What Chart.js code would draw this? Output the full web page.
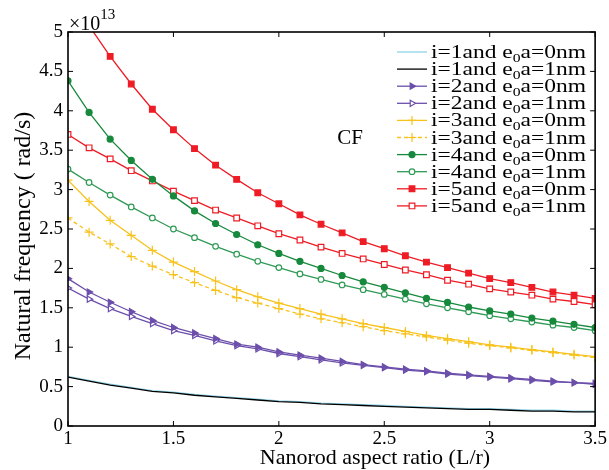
<!DOCTYPE html>
<html>
<head>
<meta charset="utf-8">
<script src="https://cdn.jsdelivr.net/npm/chart.js@4/dist/chart.umd.min.js"></script>
<style>
  html, body { margin: 0; padding: 0; background: #fff; }
</style>
</head>
<body>
<canvas id="freqChart" width="609" height="470"></canvas>
<script>
// aspect ratio L/r, values in units of 1e13 rad/s
const aspectRatio = [1.0, 1.1, 1.2, 1.3, 1.4, 1.5, 1.6, 1.7, 1.8, 1.9, 2.0, 2.1, 2.2,
  2.3, 2.4, 2.5, 2.6, 2.7, 2.8, 2.9, 3.0, 3.1, 3.2, 3.3, 3.4, 3.5];

const i1Local = [0.63, 0.58, 0.53, 0.49, 0.45, 0.43, 0.40, 0.38, 0.36, 0.34, 0.32, 0.31, 0.29,
  0.28, 0.27, 0.26, 0.25, 0.24, 0.23, 0.22, 0.22, 0.21, 0.20, 0.20, 0.19, 0.19];
const i1Nonlocal = [0.62, 0.57, 0.52, 0.48, 0.44, 0.42, 0.39, 0.37, 0.35, 0.33, 0.31, 0.30, 0.28,
  0.27, 0.26, 0.25, 0.24, 0.23, 0.22, 0.21, 0.21, 0.20, 0.19, 0.19, 0.18, 0.18];
const i2Local = [1.87, 1.70, 1.57, 1.45, 1.34, 1.25, 1.18, 1.11, 1.04, 1.00, 0.94, 0.90, 0.86,
  0.82, 0.78, 0.75, 0.72, 0.70, 0.67, 0.65, 0.63, 0.61, 0.59, 0.57, 0.55, 0.54];
const i2Nonlocal = [1.75, 1.61, 1.49, 1.39, 1.30, 1.21, 1.15, 1.08, 1.02, 0.98, 0.92, 0.88, 0.84,
  0.80, 0.77, 0.74, 0.71, 0.69, 0.66, 0.64, 0.62, 0.60, 0.58, 0.56, 0.55, 0.53];
const i3Local = [3.12, 2.85, 2.61, 2.42, 2.23, 2.08, 1.96, 1.84, 1.73, 1.64, 1.56, 1.49, 1.42,
  1.36, 1.30, 1.25, 1.20, 1.15, 1.11, 1.07, 1.03, 1.00, 0.97, 0.94, 0.91, 0.88];
const i3Nonlocal = [2.64, 2.46, 2.31, 2.15, 2.03, 1.92, 1.82, 1.72, 1.63, 1.56, 1.49, 1.42, 1.36,
  1.31, 1.26, 1.21, 1.17, 1.13, 1.09, 1.05, 1.02, 0.99, 0.96, 0.93, 0.90, 0.87];
const i4Local = [4.38, 3.98, 3.64, 3.37, 3.13, 2.92, 2.73, 2.57, 2.43, 2.30, 2.19, 2.09, 2.00,
  1.91, 1.83, 1.76, 1.69, 1.62, 1.57, 1.51, 1.46, 1.42, 1.37, 1.33, 1.29, 1.25];
const i4Nonlocal = [3.26, 3.09, 2.93, 2.78, 2.64, 2.50, 2.39, 2.28, 2.18, 2.09, 2.01, 1.93, 1.86,
  1.79, 1.73, 1.67, 1.61, 1.55, 1.50, 1.45, 1.40, 1.36, 1.32, 1.28, 1.25, 1.21];
const i5Local = [5.52, 5.08, 4.69, 4.34, 4.02, 3.76, 3.52, 3.31, 3.13, 2.96, 2.82, 2.68, 2.56,
  2.45, 2.34, 2.25, 2.16, 2.08, 2.01, 1.94, 1.87, 1.82, 1.76, 1.70, 1.66, 1.62];
const i5Nonlocal = [3.70, 3.53, 3.39, 3.24, 3.11, 2.98, 2.86, 2.74, 2.64, 2.54, 2.44, 2.36, 2.27,
  2.19, 2.12, 2.05, 1.98, 1.92, 1.85, 1.80, 1.74, 1.70, 1.66, 1.61, 1.58, 1.54];

const xTicks = [1, 1.5, 2, 2.5, 3, 3.5];
const xTickLabels = ['1', '1.5', '2', '2.5', '3', '3.5'];
const yTicks = [0, 0.5, 1, 1.5, 2, 2.5, 3, 3.5, 4, 4.5, 5];
const yTickLabels = ['0', '0.5', '1', '1.5', '2', '2.5', '3', '3.5', '4', '4.5', '5'];

const modeNumbers = ['1', '1', '2', '2', '3', '3', '4', '4', '5', '5'];
const nonlocalParams = ['0', '1', '0', '1', '0', '1', '0', '1', '0', '1'];

const SERIF = '"Liberation Serif", "Times New Roman", serif';

const styles = [
  { color: '#8fd3e8', style: false },
  { color: '#000000', style: false, order: -1 },
  { color: '#6c4fab', style: 'triangle', r: 3.6, rot: 90, fill: true },
  { color: '#6c4fab', style: 'triangle', r: 3.6, rot: 90, fill: false },
  { color: '#f8c21c', style: 'cross', r: 4.5, fill: true },
  { color: '#f8c21c', style: 'cross', r: 4.5, fill: true, dash: [4, 3] },
  { color: '#17893c', style: 'circle', r: 3, fill: true },
  { color: '#2e9a55', style: 'circle', r: 2.8, fill: false },
  { color: '#ee1c25', style: 'rect', r: 4, fill: true },
  { color: '#ee1c25', style: 'rect', r: 4, fill: false }
];
const seriesValues = [i1Local, i1Nonlocal, i2Local, i2Nonlocal, i3Local, i3Nonlocal,
  i4Local, i4Nonlocal, i5Local, i5Nonlocal];

const datasets = seriesValues.map((vals, k) => {
  const s = styles[k];
  return {
    label: 'i=' + modeNumbers[k] + 'and e0a=' + nonlocalParams[k] + 'nm',
    data: vals.map((v, j) => ({ x: aspectRatio[j], y: v })),
    borderColor: s.color,
    borderWidth: 1.3,
    borderDash: s.dash || [],
    pointStyle: s.style || 'circle',
    pointRadius: s.style ? s.r : 0,
    pointRotation: s.rot || 0,
    pointBackgroundColor: s.fill ? s.color : '#ffffff',
    pointBorderColor: s.color,
    pointBorderWidth: 1.2,
    tension: 0,
    order: s.order || 0
  };
});

function drawMarker(ctx, s, x, y) {
  if (!s.style) return;
  ctx.save();
  ctx.setLineDash([]);
  ctx.fillStyle = s.fill ? s.color : '#ffffff';
  ctx.strokeStyle = s.color;
  ctx.lineWidth = 1.2;
  Chart.helpers.drawPoint(ctx, { pointStyle: s.style, radius: s.r, rotation: s.rot || 0, borderWidth: 1.2 }, x, y);
  ctx.restore();
}

const decorations = {
  id: 'decorations',
  afterDraw(chart) {
    const ctx = chart.ctx;
    const a = chart.chartArea;
    const xs = chart.scales.x, ys = chart.scales.y;
    ctx.save();
    // box and inward ticks
    ctx.strokeStyle = '#000';
    ctx.lineWidth = 1.6;
    ctx.setLineDash([]);
    ctx.strokeRect(a.left, a.top, a.right - a.left, a.bottom - a.top);
    ctx.lineWidth = 1;
    const tl = 5;
    ctx.beginPath();
    xTicks.forEach(v => {
      const px = xs.getPixelForValue(v);
      ctx.moveTo(px, a.bottom); ctx.lineTo(px, a.bottom - tl);
      ctx.moveTo(px, a.top); ctx.lineTo(px, a.top + tl);
    });
    yTicks.forEach(v => {
      const py = ys.getPixelForValue(v);
      ctx.moveTo(a.left, py); ctx.lineTo(a.left + tl, py);
      ctx.moveTo(a.right, py); ctx.lineTo(a.right - tl, py);
    });
    ctx.stroke();

    ctx.fillStyle = '#000';
    // exponent
    ctx.textBaseline = 'alphabetic';
    ctx.textAlign = 'left';
    ctx.font = '20px ' + SERIF;
    ctx.fillText('\u00d710', a.left + 1, 30);
    const w10 = ctx.measureText('\u00d710').width;
    ctx.font = '15px ' + SERIF;
    ctx.fillText('13', a.left + 1 + w10, 19);

    // CF label
    ctx.font = '21px ' + SERIF;
    ctx.textAlign = 'center';
    ctx.fillText('CF', 350, 144);

    // axis titles
    ctx.font = '22px ' + SERIF;
    ctx.textBaseline = 'middle';
    ctx.fillText('Nanorod aspect ratio (L/r)', 375, 458);
    ctx.save();
    ctx.translate(24, 236);
    ctx.rotate(-Math.PI / 2);
    ctx.font = '24px ' + SERIF;
    ctx.fillText('Natural frequency ( rad/s)', 0, 0);
    ctx.restore();

    // legend
    const lx0 = 397, lx1 = 427, tx = 431, textW = 155;
    styles.forEach((s, k) => {
      const y = 52 + 17.1 * k;
      ctx.save();
      ctx.strokeStyle = s.color;
      ctx.lineWidth = 1.3;
      ctx.setLineDash(s.dash || []);
      ctx.beginPath();
      ctx.moveTo(lx0, y); ctx.lineTo(lx1, y);
      ctx.stroke();
      ctx.restore();
      drawMarker(ctx, s, (lx0 + lx1) / 2, y);

      const partA = 'i=' + modeNumbers[k] + 'and e';
      const partB = '0';
      const partC = 'a=' + nonlocalParams[k] + 'nm';
      ctx.save();
      ctx.textAlign = 'left';
      ctx.textBaseline = 'alphabetic';
      ctx.font = '18px ' + SERIF;
      const wa = ctx.measureText(partA).width;
      const wc = ctx.measureText(partC).width;
      ctx.font = '12px ' + SERIF;
      const wb = ctx.measureText(partB).width;
      const sx = textW / (wa + wb + wc);
      ctx.translate(tx, y + 6);
      ctx.scale(sx, 1);
      ctx.font = '18px ' + SERIF;
      ctx.fillText(partA, 0, 0);
      ctx.font = '12px ' + SERIF;
      ctx.fillText(partB, wa, 4);
      ctx.font = '18px ' + SERIF;
      ctx.fillText(partC, wa + wb, 0);
      ctx.restore();
    });
    ctx.restore();
  }
};

new Chart(document.getElementById('freqChart'), {
  type: 'line',
  data: { datasets: datasets },
  options: {
    responsive: false,
    animation: false,
    devicePixelRatio: 1,
    layout: { padding: { top: 32, right: 12, left: 0, bottom: 0 } },
    plugins: { legend: { display: false }, tooltip: { enabled: false } },
    scales: {
      x: {
        type: 'linear',
        min: 1, max: 3.5,
        grid: { display: false, drawTicks: false },
        border: { display: false },
        afterBuildTicks: s => { s.ticks = xTicks.map(v => ({ value: v })); },
        afterFit: s => { s.height = 44; },
        ticks: {
          color: '#000', padding: 2,
          font: { family: SERIF, size: 19 },
          maxRotation: 0,
          callback: (v, i) => xTickLabels[i]
        }
      },
      y: {
        min: 0, max: 5,
        grid: { display: false, drawTicks: false },
        border: { display: false },
        afterBuildTicks: s => { s.ticks = yTicks.map(v => ({ value: v })); },
        afterFit: s => { s.width = 68; },
        ticks: {
          color: '#000', padding: 5,
          font: { family: SERIF, size: 19 },
          callback: (v, i) => yTickLabels[i]
        }
      }
    }
  },
  plugins: [decorations]
});
</script>
</body>
</html>
